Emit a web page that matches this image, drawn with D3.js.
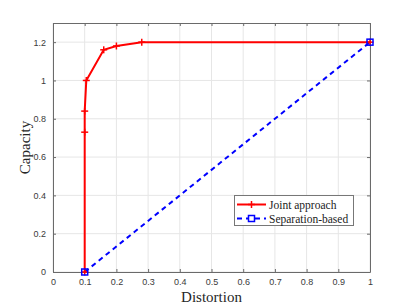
<!DOCTYPE html>
<html><head><meta charset="utf-8">
<script src="https://cdn.jsdelivr.net/npm/d3@7"></script>
<style>body{margin:0;background:#fff;}</style>
</head><body>
<svg id="c" width="409" height="307"></svg>
<script>
const jointX = [0.1, 0.1, 0.1, 0.105, 0.16, 0.2, 0.28, 1.0];
const jointY = [0, 0.73, 0.84, 1.0, 1.16, 1.18, 1.2, 1.2];
const sepX = [0.1, 1.0];
const sepY = [0, 1.2];
const xTicks = [0,0.1,0.2,0.3,0.4,0.5,0.6,0.7,0.8,0.9,1];
const yTicks = [0,0.2,0.4,0.6,0.8,1,1.2];
const seriesNames = ["Joint approach","Separation-based"];

const svg = d3.select("#c");
const L=53,R=370,T=23,B=272;
const x = d3.scaleLinear().domain([0,1]).range([L,R]);
const y = d3.scaleLinear().domain([0,1.3]).range([B,T]);
const axisCol="#6a6a6a", gridCol="#e6e6e6", txtCol="#3a3a3a";

svg.append("rect").attr("x",L).attr("y",T).attr("width",R-L).attr("height",B-T).attr("fill","#fff");
// grid
svg.append("g").selectAll("line").data(xTicks).join("line")
  .attr("x1",d=>x(d)).attr("x2",d=>x(d)).attr("y1",T).attr("y2",B)
  .attr("stroke",gridCol).attr("stroke-width",1);
svg.append("g").selectAll("line").data(yTicks).join("line")
  .attr("x1",L).attr("x2",R).attr("y1",d=>y(d)).attr("y2",d=>y(d))
  .attr("stroke",gridCol).attr("stroke-width",1);

const tf = d3.format("~g");
const fontTick = "Liberation Sans, Arial, sans-serif";
const gx = svg.append("g").attr("transform",`translate(0,${B})`)
  .call(d3.axisBottom(x).tickValues(xTicks).tickFormat(tf).tickSizeInner(-3).tickSizeOuter(0).tickPadding(7));
const gxt = svg.append("g").attr("transform",`translate(0,${T})`)
  .call(d3.axisTop(x).tickValues(xTicks).tickFormat("").tickSizeInner(-3).tickSizeOuter(0));
const gy = svg.append("g").attr("transform",`translate(${L},0)`)
  .call(d3.axisLeft(y).tickValues(yTicks).tickFormat(tf).tickSizeInner(-3).tickSizeOuter(0).tickPadding(7));
const gyr = svg.append("g").attr("transform",`translate(${R},0)`)
  .call(d3.axisRight(y).tickValues(yTicks).tickFormat("").tickSizeInner(-3).tickSizeOuter(0));
[gx,gxt,gy,gyr].forEach(g=>{
  g.select(".domain").attr("stroke",axisCol).attr("stroke-width",1);
  g.selectAll(".tick line").attr("stroke",axisCol);
  g.selectAll("text").attr("fill",txtCol).style("font-family",fontTick).style("font-size","9px");
});

// series
const jd = jointX.map((v,i)=>[v,jointY[i]]);
const sd = sepX.map((v,i)=>[v,sepY[i]]);
const line = d3.line().x(d=>x(d[0])).y(d=>y(d[1]));
svg.append("path").datum(sd).attr("d",line).attr("fill","none").attr("stroke","#0000ff").attr("stroke-width",2).attr("stroke-dasharray","5,4");
svg.append("path").datum(jd).attr("d",line).attr("fill","none").attr("stroke","#ff0000").attr("stroke-width",2);
function plus(g,cx,cy,s,col){
  g.append("line").attr("x1",cx-s).attr("x2",cx+s).attr("y1",cy).attr("y2",cy).attr("stroke",col).attr("stroke-width",1.5);
  g.append("line").attr("x1",cx).attr("x2",cx).attr("y1",cy-s).attr("y2",cy+s).attr("stroke",col).attr("stroke-width",1.5);
}
const mg = svg.append("g");
jd.forEach(d=>plus(mg,x(d[0]),y(d[1]),3.5,"#ff0000"));
sd.forEach(d=>mg.append("rect").attr("x",x(d[0])-3).attr("y",y(d[1])-3).attr("width",6).attr("height",6)
  .attr("fill","none").attr("stroke","#0000ff").attr("stroke-width",1.5));

// axis labels
svg.append("text").attr("x",(L+R)/2).attr("y",302).attr("text-anchor","middle")
  .style("font-family","Liberation Serif, Times New Roman, serif").style("font-size","15px").attr("fill","#262626").text("Distortion");
svg.append("text").attr("transform",`translate(30,${(T+B)/2}) rotate(-90)`).attr("text-anchor","middle")
  .style("font-family","Liberation Serif, Times New Roman, serif").style("font-size","15px").attr("fill","#262626").text("Capacity");

// legend
const lg = svg.append("g");
lg.append("rect").attr("x",234.5).attr("y",195.5).attr("width",119).attr("height",30).attr("fill","#fff").attr("stroke","#777").attr("stroke-width",1);
const ly=[204.5,218.5];
lg.append("line").attr("x1",237).attr("x2",266).attr("y1",ly[0]).attr("y2",ly[0]).attr("stroke","#ff0000").attr("stroke-width",2);
plus(lg,251.5,ly[0],3.5,"#ff0000");
lg.append("line").attr("x1",237).attr("x2",266).attr("y1",ly[1]).attr("y2",ly[1]).attr("stroke","#0000ff").attr("stroke-width",2).attr("stroke-dasharray","5,4");
lg.append("rect").attr("x",248.5).attr("y",ly[1]-3).attr("width",6).attr("height",6).attr("fill","#fff").attr("stroke","#0000ff").attr("stroke-width",1.5);
seriesNames.forEach((n,i)=>lg.append("text").attr("x",269).attr("y",ly[i]+4).style("font-family","Liberation Serif, Times New Roman, serif").style("font-size","11.5px").attr("fill","#222").text(n));
</script>
</body></html>
